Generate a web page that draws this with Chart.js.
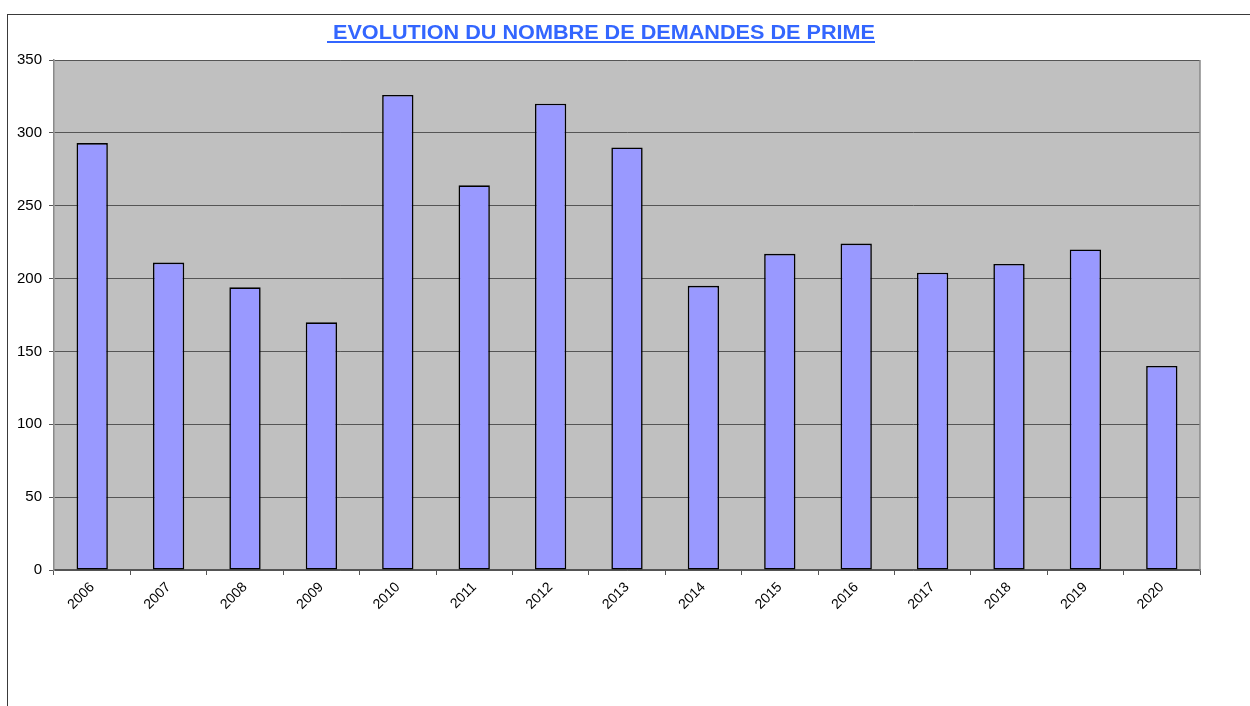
<!DOCTYPE html>
<html>
<head>
<meta charset="utf-8">
<script src="https://cdn.jsdelivr.net/npm/chart.js@4.4.1/dist/chart.umd.min.js"></script>
<style>
  html, body { margin: 0; padding: 0; background: #fff; }
  #wrap { position: relative; width: 1250px; height: 706px; }
  #frame { position: absolute; left: 7px; top: 14px; right: 0; bottom: 0; border-left: 1px solid #3a3a3a; border-top: 1px solid #3a3a3a; pointer-events: none; }
  canvas { position: absolute; left: 0; top: 0; }
</style>
</head>
<body>
<div id="wrap">
  <canvas id="c" width="1250" height="706"></canvas>
  <div id="frame"></div>
</div>
<script>
const titleText = " EVOLUTION DU NOMBRE DE DEMANDES DE PRIME";
const years = ["2006","2007","2008","2009","2010","2011","2012","2013","2014","2015","2016","2017","2018","2019","2020"];
const demandes = [293, 211, 194, 170, 326, 264, 320, 290, 195, 217, 224, 204, 210, 220, 140];
const yMin = 0, yMax = 350, yStep = 50;

const FONT = "Arial, 'Liberation Sans', sans-serif";

const plotBg = {
  id: 'plotBg',
  beforeDraw(chart) {
    const { ctx, chartArea: a } = chart;
    ctx.save();
    ctx.fillStyle = '#C0C0C0';
    ctx.fillRect(a.left, a.top, a.right - a.left, a.bottom - a.top);
    ctx.restore();
  },
  afterDraw(chart) {
    const { ctx, chartArea: a } = chart;
    ctx.save();
    ctx.strokeStyle = '#8a8a8a';
    ctx.lineWidth = 1.5;
    ctx.beginPath();
    ctx.moveTo(a.right, a.top);
    ctx.lineTo(a.right, a.bottom);
    ctx.stroke();
    // title with underline
    ctx.font = "bold 21px " + FONT;
    ctx.fillStyle = '#3366FF';
    ctx.textBaseline = 'alphabetic';
    ctx.textAlign = 'left';
    const target = 548;
    const w0 = ctx.measureText(titleText).width;
    const spaces = (titleText.match(/ /g) || []).length;
    let sx = 1;
    if ('wordSpacing' in ctx) {
      ctx.wordSpacing = Math.max(0, (target - w0) / spaces) + 'px';
      const w1 = ctx.measureText(titleText).width;
      sx = target / w1;
    } else {
      sx = target / w0;
    }
    const cx = 601;
    const x0 = cx - target / 2;
    ctx.save();
    ctx.translate(x0, 39);
    ctx.scale(sx, 1);
    ctx.fillText(titleText, 0, 0);
    ctx.restore();
    ctx.fillRect(x0, 41, target, 2);
    ctx.restore();
  }
};

new Chart(document.getElementById('c'), {
  type: 'bar',
  data: {
    labels: years,
    datasets: [{
      data: demandes,
      backgroundColor: '#9999FF',
      borderColor: '#000000',
      borderWidth: 1.6,
      borderSkipped: false,
      categoryPercentage: 1.0,
      barPercentage: 0.41
    }]
  },
  options: {
    responsive: false,
    animation: false,
    events: [],
    layout: { padding: { left: 0, top: 60, right: 50, bottom: 0 } },
    plugins: { legend: { display: false }, title: { display: false }, tooltip: { enabled: false } },
    scales: {
      x: {
        afterFit(s) { s.height = 136; },
        grid: { offset: true, drawOnChartArea: false, drawTicks: true, tickLength: 5, color: '#555' },
        border: { display: true, color: '#555', width: 1.5 },
        ticks: { color: '#000', font: { family: FONT, size: 14 }, maxRotation: 45, minRotation: 45, padding: 4 }
      },
      y: {
        min: yMin, max: yMax,
        afterFit(s) { s.width = 54; },
        grid: { color: '#555', lineWidth: 1, drawTicks: true, tickLength: 5, tickColor: '#555' },
        border: { display: true, color: '#8a8a8a', width: 1.5 },
        ticks: { stepSize: yStep, color: '#000', font: { family: FONT, size: 15 }, padding: 7 }
      }
    }
  },
  plugins: [plotBg]
});
</script>
</body>
</html>
